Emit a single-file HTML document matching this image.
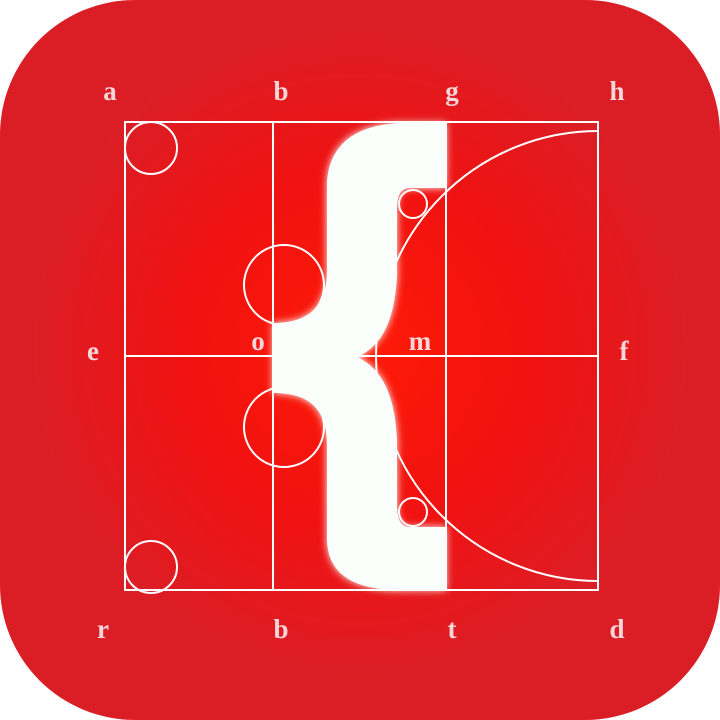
<!DOCTYPE html>
<html><head><meta charset="utf-8"><style>
html,body{margin:0;padding:0;background:#fff;}
svg{display:block}
text{font-family:"Liberation Serif",serif;fill:#f6d6d8;font-weight:bold;font-size:27px;text-anchor:middle}
</style></head><body>
<svg width="720" height="720" viewBox="0 0 720 720">
<defs>
<radialGradient id="g" cx="360" cy="350" r="330" gradientUnits="userSpaceOnUse">
<stop offset="0" stop-color="#ff1a05"/><stop offset="0.55" stop-color="#f01212"/><stop offset="1" stop-color="#db1e26"/>
</radialGradient>
<filter id="glow" x="-20%" y="-20%" width="140%" height="140%"><feGaussianBlur stdDeviation="4" result="b"/><feMerge><feMergeNode in="b"/><feMergeNode in="SourceGraphic"/></feMerge></filter>
</defs>
<rect x="0" y="0" width="720" height="720" rx="135" fill="url(#g)"/>
<g stroke="#fff" stroke-width="2" fill="none">
<rect x="125" y="122" width="473" height="468"/>
<line x1="125" y1="356" x2="598" y2="356"/>
<line x1="273" y1="122" x2="273" y2="590"/>
<line x1="446" y1="122" x2="446" y2="590"/>
<circle cx="151" cy="148" r="26"/>
<circle cx="151" cy="567" r="26"/>
<circle cx="284" cy="285" r="40"/>
<circle cx="284" cy="427" r="40"/>
<path d="M598 131 A222 225 0 0 0 598 581"/>
</g>
<path filter="url(#glow)" fill="#fbfffc" d="M446 123 L400 123 C355 125 328 145 327 185 L327 270 C327 310 305 323 273 323 L273 393 C305 393 327 405 327 445 L327 540 C328 575 355 590 400 590 L446 590 L446 527 L410 527 C400 527 397 518 397 505 L397 440 C395 400 385 370 357 357 C385 345 395 315 397 275 L397 210 C397 196 400 188 410 188 L446 188 Z"/>
<g stroke="#fff" stroke-width="2" fill="none">
<circle cx="413" cy="204" r="14"/>
<circle cx="413" cy="512" r="14"/>
</g>
<g>
<text x="110" y="100">a</text><text x="281" y="100">b</text><text x="452" y="100">g</text><text x="617" y="100">h</text>
<text x="93" y="360">e</text><text x="624" y="360">f</text>
<text x="258" y="350" font-size="22">o</text><text x="420" y="350" font-size="22">m</text>
<text x="103" y="638">r</text><text x="281" y="638">b</text><text x="452" y="638">t</text><text x="617" y="638">d</text>
</g>
</svg>
</body></html>
